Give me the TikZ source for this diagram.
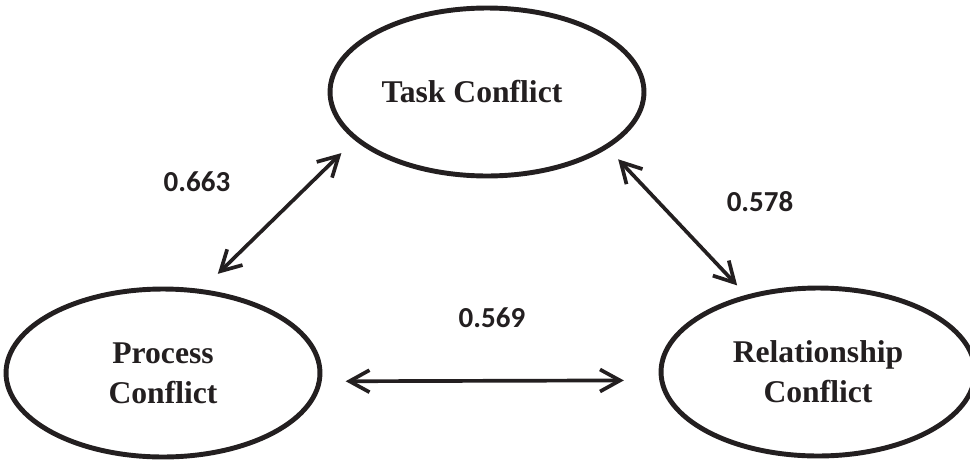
\documentclass[tikz,border=0pt]{standalone}
\usepackage{fontspec}
\setmainfont{Liberation Serif}
\newfontfamily\numfont{Carlito}
\usetikzlibrary{shapes.geometric,arrows.meta}
\definecolor{ink}{RGB}{35,31,32}
\tikzset{
  factor/.style={draw=ink, text=ink, ellipse, line width=2.8pt, minimum width=6.28cm,
    minimum height=3.36cm, inner sep=0pt, align=center,
    font=\fontsize{18}{22.7}\selectfont\bfseries},
  corr/.style={{Straight Barb[length=4mm,width=4.4mm]}-{Straight Barb[length=4mm,width=4.4mm]},
    draw=ink, line width=2.1pt},
  coef/.style={text=ink, font=\numfont\fontsize{16.5}{20}\selectfont\bfseries}
}
\begin{document}
\begin{tikzpicture}[x=0.02cm, y=-0.02cm]
  \useasboundingbox (0,0) rectangle (970,460);
  \node[factor] (task) at (487,92) {Task Conflict\hspace*{0.6cm}};
  \node[factor] (proc) at (163,373) {Process\\Conflict};
  \node[factor] (rel) at (818,372) {Relationship\\Conflict};
  \draw[corr, shorten <=0.44cm, shorten >=0.37cm] (proc.65) -- (task.200);
  \draw[corr, shorten <=0.3cm, shorten >=0.26cm] (task.335) -- (rel.133);
  \draw[corr, shorten <=0.48cm, shorten >=0.71cm] (proc.-3) -- (rel.183);
  \node[coef] (c1) at (197,182) {0.663};
  \node[coef] (c2) at (760,202) {0.578};
  \node[coef] (c3) at (492,318) {0.569};
\end{tikzpicture}
\end{document}
